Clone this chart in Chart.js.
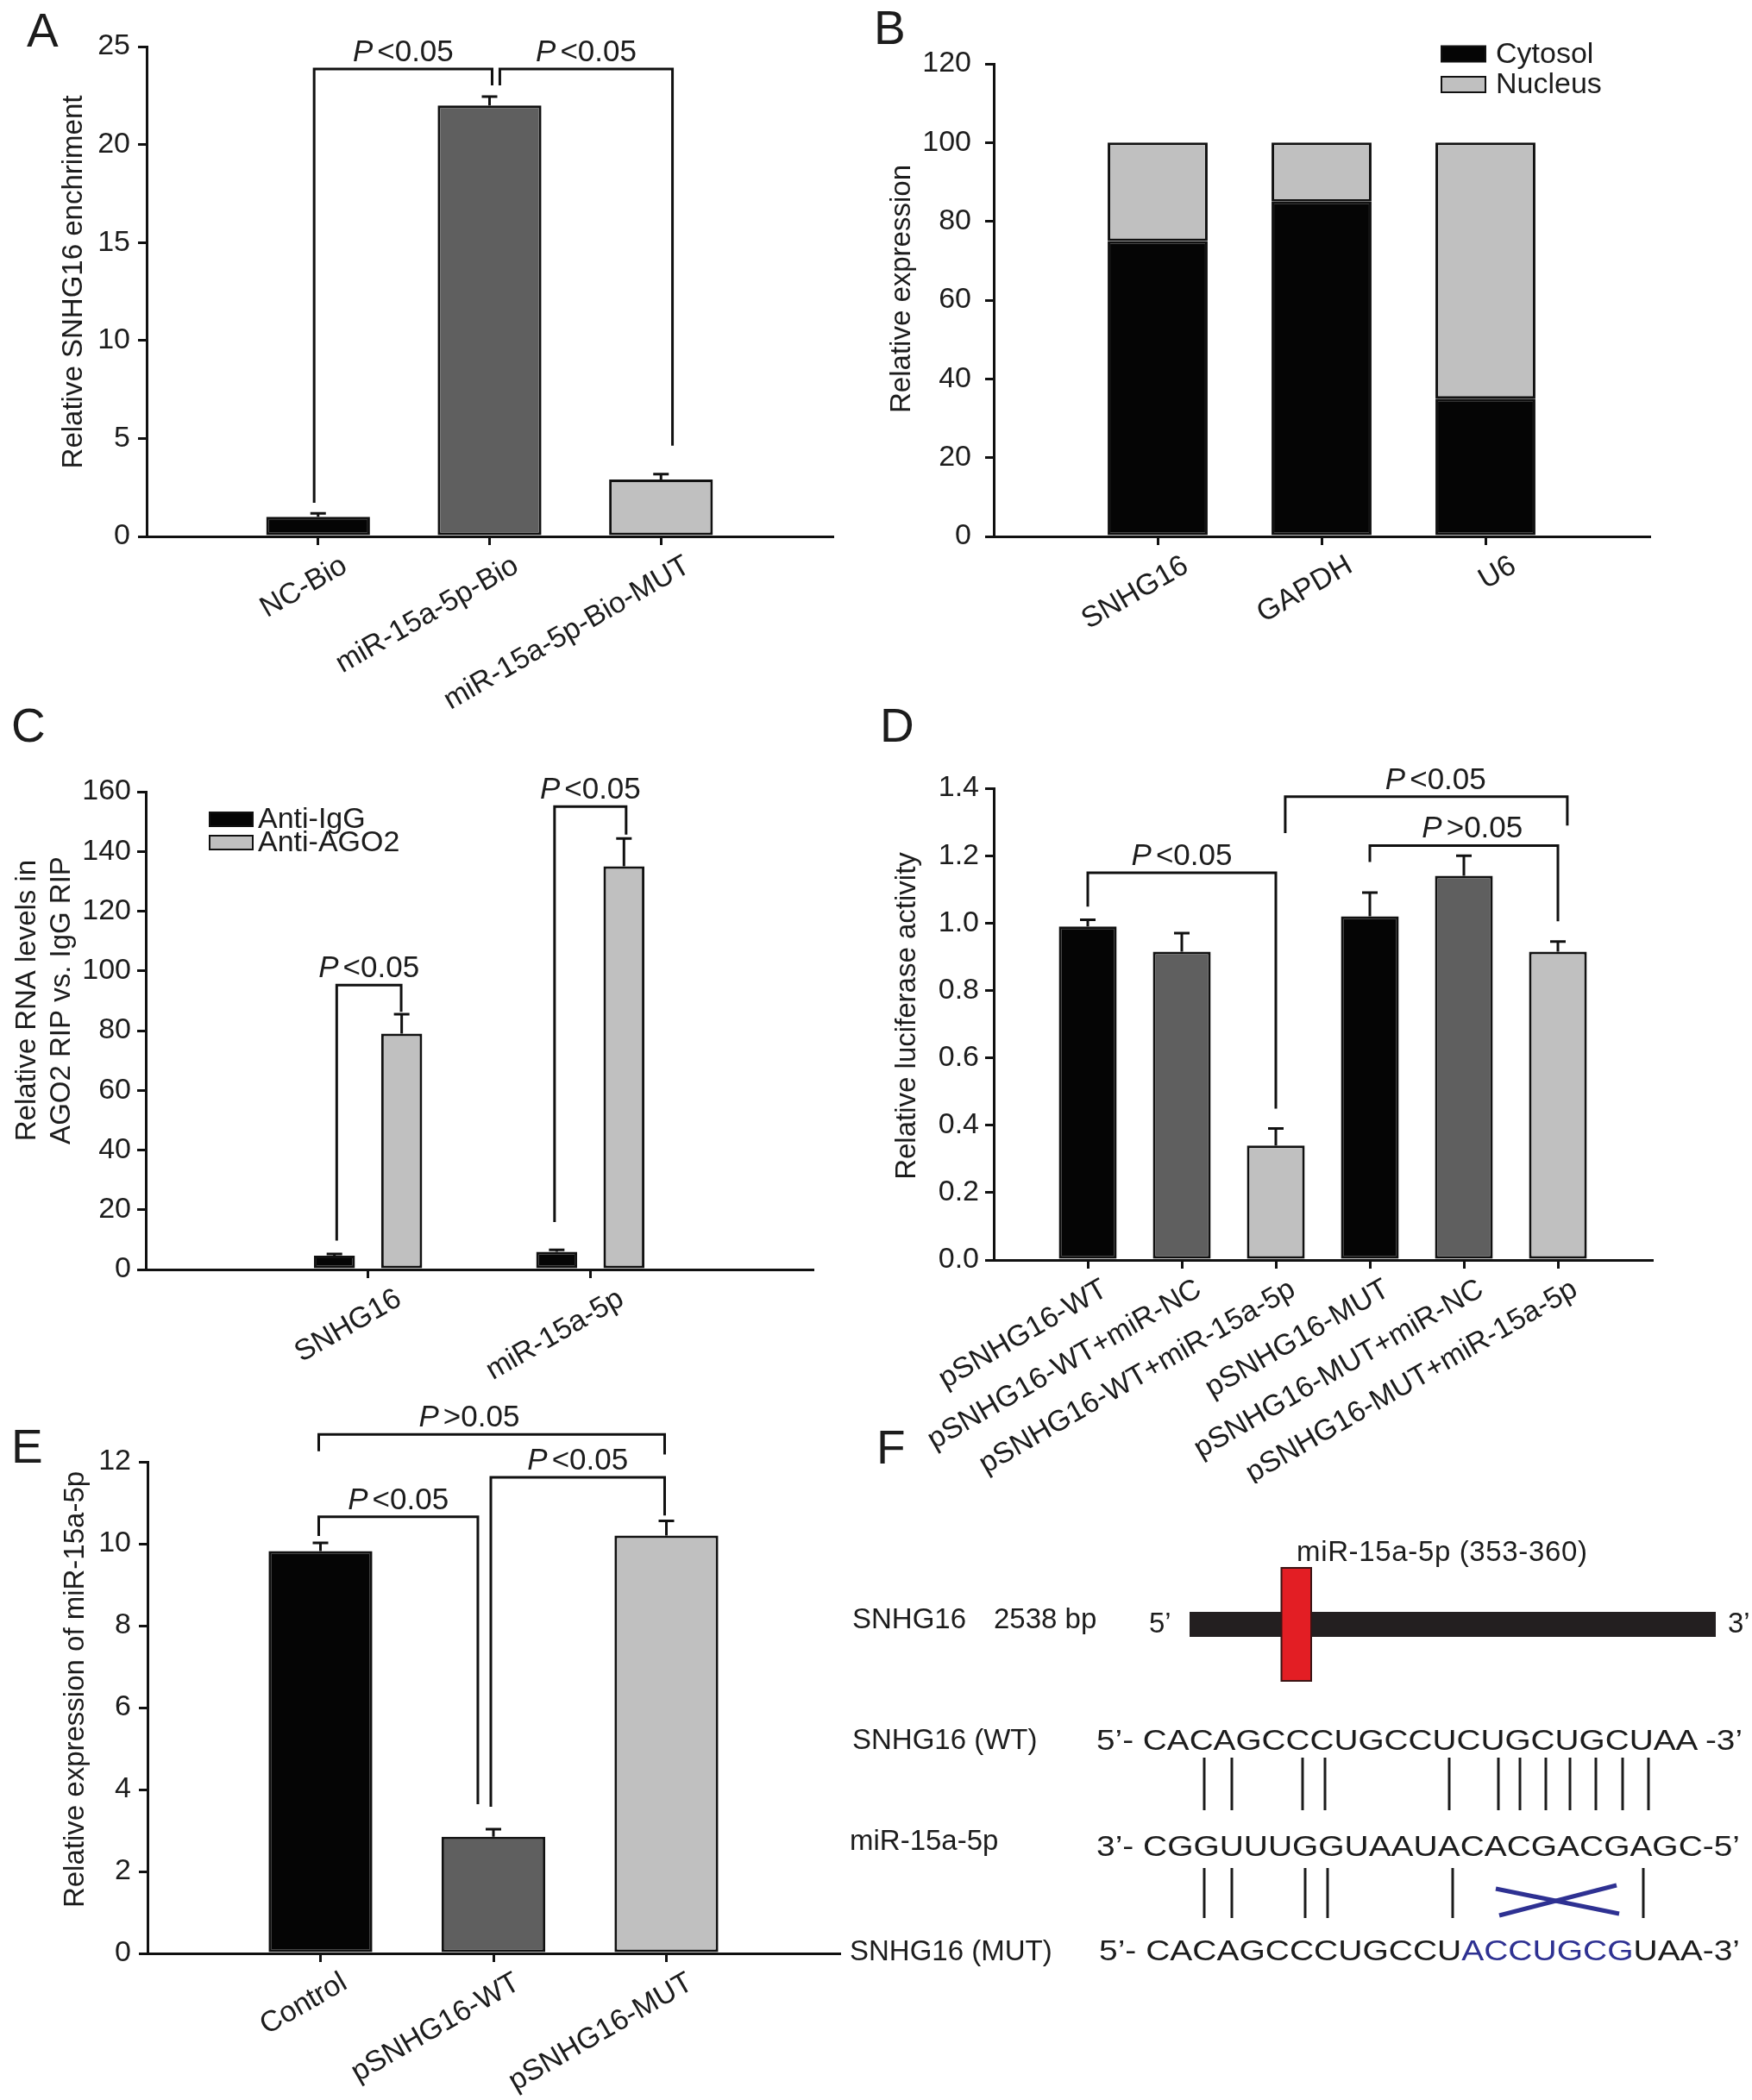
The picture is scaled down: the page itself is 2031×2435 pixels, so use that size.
<!DOCTYPE html>
<html>
<head>
<meta charset="utf-8">
<script src="https://cdn.jsdelivr.net/npm/chart.js"></script>
<style>
  html, body { margin: 0; padding: 0; background: #fff; }
  #page { position: relative; width: 2031px; height: 2435px; overflow: hidden; background: #fff; }
  canvas { position: absolute; }
  #overlay { position: absolute; left: 0; top: 0; pointer-events: none; }
</style>
</head>
<body>
<div id="page">
  <canvas id="chartA"></canvas>
  <canvas id="chartB"></canvas>
  <canvas id="chartC"></canvas>
  <canvas id="chartD"></canvas>
  <canvas id="chartE"></canvas>

  <!-- panel letters + panel F schematic -->
  <svg id="overlay" width="2031" height="2435" viewBox="0 0 2031 2435"
       font-family="'Liberation Sans', Arial, Helvetica, sans-serif" fill="#1c1c1c">
    <g font-size="55">
      <text x="31" y="54">A</text>
      <text x="1013" y="51">B</text>
      <text x="13" y="860">C</text>
      <text x="1020" y="860">D</text>
      <text x="13" y="1696">E</text>
      <text x="1016" y="1697">F</text>
    </g>
    <g font-size="33">
      <text x="1503" y="1810" textLength="337" lengthAdjust="spacing">miR-15a-5p (353-360)</text>
      <rect x="1379" y="1869" width="610" height="29" fill="#231f20"/>
      <rect x="1485.5" y="1818" width="34.5" height="131" fill="#e31e24" stroke="#3b1414" stroke-width="2"/>
      <text x="988" y="1888">SNHG16</text>
      <text x="1152" y="1888">2538 bp</text>
      <text x="1332" y="1893">5’</text>
      <text x="2003" y="1893">3’</text>

      <text x="988" y="2028">SNHG16 (WT)</text>
      <text x="985" y="2145">miR-15a-5p</text>
      <text x="985" y="2273">SNHG16 (MUT)</text>
    </g>
    <g font-size="34">
      <text x="1271" y="2029" textLength="749" lengthAdjust="spacingAndGlyphs">5’- CACAGCCCUGCCUCUGCUGCUAA -3’</text>
      <text x="1271" y="2152" textLength="746" lengthAdjust="spacingAndGlyphs">3’- CGGUUUGGUAAUACACGACGAGC-5’</text>
      <text x="1274" y="2273" textLength="743" lengthAdjust="spacingAndGlyphs">5’- CACAGCCCUGCCU<tspan fill="#2e3192">ACCUGCG</tspan>UAA-3’</text>
    </g>
    <g stroke="#1c1c1c" stroke-width="3">
      <line x1="1396" y1="2038" x2="1396" y2="2099"/>
      <line x1="1428" y1="2038" x2="1428" y2="2099"/>
      <line x1="1510" y1="2038" x2="1510" y2="2099"/>
      <line x1="1536" y1="2038" x2="1536" y2="2099"/>
      <line x1="1680" y1="2038" x2="1680" y2="2099"/>
      <line x1="1737" y1="2038" x2="1737" y2="2099"/>
      <line x1="1762" y1="2038" x2="1762" y2="2099"/>
      <line x1="1792" y1="2038" x2="1792" y2="2099"/>
      <line x1="1820" y1="2038" x2="1820" y2="2099"/>
      <line x1="1850" y1="2038" x2="1850" y2="2099"/>
      <line x1="1881" y1="2038" x2="1881" y2="2099"/>
      <line x1="1911" y1="2038" x2="1911" y2="2099"/>

      <line x1="1396" y1="2166" x2="1396" y2="2224"/>
      <line x1="1428" y1="2166" x2="1428" y2="2224"/>
      <line x1="1513" y1="2166" x2="1513" y2="2224"/>
      <line x1="1539" y1="2166" x2="1539" y2="2224"/>
      <line x1="1684" y1="2166" x2="1684" y2="2224"/>
      <line x1="1905" y1="2166" x2="1905" y2="2224"/>
    </g>
    <g stroke="#2e3192" stroke-width="5">
      <line x1="1734" y1="2190" x2="1877" y2="2219"/>
      <line x1="1738" y1="2221" x2="1874" y2="2186"/>
    </g>
  </svg>
</div>

<script>
// ---- data ----
const labelsA = ['NC-Bio', 'miR-15a-5p-Bio', 'miR-15a-5p-Bio-MUT'];
const valuesA = [1.0, 22.0, 2.9];
const errorsA = [0.18, 0.45, 0.28];
const ticksA = [0, 5, 10, 15, 20, 25];

const labelsB = ['SNHG16', 'GAPDH', 'U6'];
const cytosolB = [75, 85, 35];
const nucleusB = [25, 15, 65];
const ticksB = [0, 20, 40, 60, 80, 100, 120];

const labelsC = ['SNHG16', 'miR-15a-5p'];
const antiIgG = [4.6, 5.9];
const antiIgGErr = [0.6, 0.7];
const antiAGO2 = [79, 135];
const antiAGO2Err = [6.5, 9.3];
const ticksC = [0, 20, 40, 60, 80, 100, 120, 140, 160];

const labelsD = ['pSNHG16-WT', 'pSNHG16-WT+miR-NC', 'pSNHG16-WT+miR-15a-5p',
                 'pSNHG16-MUT', 'pSNHG16-MUT+miR-NC', 'pSNHG16-MUT+miR-15a-5p'];
const valuesD = [0.99, 0.915, 0.34, 1.02, 1.14, 0.915];
const errorsD = [0.02, 0.055, 0.05, 0.07, 0.06, 0.03];
const ticksD = [0, 0.2, 0.4, 0.6, 0.8, 1.0, 1.2, 1.4];

const labelsE = ['Control', 'pSNHG16-WT', 'pSNHG16-MUT'];
const valuesE = [9.82, 2.85, 10.2];
const errorsE = [0.2, 0.18, 0.36];
const ticksE = [0, 2, 4, 6, 8, 10, 12];

// significance brackets: x in category index (1 = first bar), y in data units
const bracketsA = [
  { x1: 0.977, x2: 2.015, top: 23.86, y1: 1.72, y2: 23.02, sign: '<' },
  { x1: 2.06, x2: 3.067, top: 23.86, y1: 23.02, y2: 4.63, sign: '<' }
];
const bracketsC = [
  { x1: 0.859, x2: 1.149, top: 95.2, y1: 9.7, y2: 86.3, sign: '<' },
  { x1: 1.839, x2: 2.161, top: 155, y1: 15.9, y2: 145.6, sign: '<' }
];
const bracketsD = [
  { x1: 1.0, x2: 3.0, top: 1.149, y1: 1.049, y2: 0.449, sign: '<' },
  { x1: 3.1, x2: 6.1, top: 1.375, y1: 1.267, y2: 1.289, sign: '<', tx: 4.7 },
  { x1: 4.0, x2: 6.0, top: 1.23, y1: 1.181, y2: 1.005, sign: '>', tx: 5.09 }
];
const bracketsE = [
  { x1: 0.99, x2: 2.99, top: 12.67, y1: 12.26, y2: 12.18, sign: '>', tx: 1.86 },
  { x1: 0.99, x2: 1.91, top: 10.66, y1: 10.19, y2: 3.64, sign: '<' },
  { x1: 1.985, x2: 2.99, top: 11.62, y1: 3.58, y2: 10.69, sign: '<' }
];

// ---- style ----
const FONT = "'Liberation Sans', Arial, Helvetica, sans-serif";
const INK = '#1c1c1c';
const BLACK = '#050505';
const DARK = '#5f5f5f';
const LIGHT = '#c0c0c0';

Chart.defaults.font.family = FONT;
Chart.defaults.font.size = 34;
Chart.defaults.color = INK;

// error bars drawn through the y scale
function errorBarsPlugin() {
  return {
    id: 'errorBars',
    afterDatasetsDraw(chart) {
      const ctx = chart.ctx, ys = chart.scales.y;
      chart.data.datasets.forEach((ds, i) => {
        if (!ds.errors) return;
        chart.getDatasetMeta(i).data.forEach((bar, j) => {
          const v = ds.data[j], e = ds.errors[j];
          if (v == null || e == null) return;
          const top = ys.getPixelForValue(v + e);
          ctx.save();
          ctx.strokeStyle = '#111';
          ctx.lineWidth = 3;
          ctx.beginPath();
          ctx.moveTo(bar.x, bar.y);
          ctx.lineTo(bar.x, top);
          ctx.moveTo(bar.x - 9, top);
          ctx.lineTo(bar.x + 9, top);
          ctx.stroke();
          ctx.restore();
        });
      });
    }
  };
}

function bracketsPlugin(list) {
  return {
    id: 'brackets',
    afterDraw(chart) {
      const ctx = chart.ctx, xs = chart.scales.x, ys = chart.scales.y;
      (list || []).forEach(b => {
        const x1 = xs.getPixelForValue(b.x1), x2 = xs.getPixelForValue(b.x2);
        const yt = ys.getPixelForValue(b.top);
        ctx.save();
        ctx.strokeStyle = '#111';
        ctx.lineWidth = 3;
        ctx.lineJoin = 'miter';
        ctx.beginPath();
        ctx.moveTo(x1, ys.getPixelForValue(b.y1));
        ctx.lineTo(x1, yt);
        ctx.lineTo(x2, yt);
        ctx.lineTo(x2, ys.getPixelForValue(b.y2));
        ctx.stroke();
        // P value text
        const cx = xs.getPixelForValue(b.tx != null ? b.tx : (b.x1 + b.x2) / 2);
        const rest = b.sign + '0.05';
        ctx.fillStyle = INK;
        ctx.textBaseline = 'alphabetic';
        ctx.textAlign = 'left';
        ctx.font = 'italic 35px ' + FONT;
        const wP = ctx.measureText('P').width;
        ctx.font = '35px ' + FONT;
        const wR = ctx.measureText(rest).width;
        const gap = 5;
        const x0 = cx - (wP + gap + wR) / 2;
        ctx.font = 'italic 35px ' + FONT;
        ctx.fillText('P', x0, yt - 9);
        ctx.font = '35px ' + FONT;
        ctx.fillText(rest, x0 + wP + gap, yt - 9);
        ctx.restore();
      });
    }
  };
}

function yTitlePlugin(p) {
  return {
    id: 'yTitle',
    afterDraw(chart) {
      const ctx = chart.ctx;
      const lh = 39.6;
      ctx.save();
      ctx.translate(p.titleAt[0] - p.box.x, p.titleAt[1] - p.box.y);
      ctx.rotate(-Math.PI / 2);
      ctx.font = '33px ' + FONT;
      ctx.fillStyle = INK;
      ctx.textAlign = 'center';
      ctx.textBaseline = 'middle';
      p.title.forEach((t, i) => ctx.fillText(t, 0, (i - (p.title.length - 1) / 2) * lh));
      ctx.restore();
    }
  };
}

function legendPlugin(p) {
  const L = p.legend;
  return {
    id: 'legendBoxes',
    afterDraw(chart) {
      const ctx = chart.ctx;
      ctx.save();
      chart.data.datasets.forEach((ds, i) => {
        const x = L.x - p.box.x;
        const y = L.y - p.box.y + i * L.gap;
        ctx.fillStyle = ds.swatch;
        ctx.fillRect(x, y - L.h / 2, L.w, L.h);
        ctx.lineWidth = 2;
        ctx.strokeStyle = '#111';
        ctx.strokeRect(x, y - L.h / 2, L.w, L.h);
        ctx.fillStyle = INK;
        ctx.font = '34px ' + FONT;
        ctx.textAlign = 'left';
        ctx.textBaseline = 'middle';
        ctx.fillText(ds.label, x + L.w + L.tx, y + 1);
      });
      ctx.restore();
    }
  };
}

function makeChart(p) {
  const cv = document.getElementById(p.id);
  cv.width = p.box.w;
  cv.height = p.box.h;
  Object.assign(cv.style, {
    left: p.box.x + 'px', top: p.box.y + 'px',
    width: p.box.w + 'px', height: p.box.h + 'px'
  });
  // one empty slot on each side, like the GraphPad layout
  const padded = ['', ...p.labels, ''];
  const datasets = p.series.map(s => ({
    label: s.label,
    data: [null, ...s.values, null],
    errors: s.errors ? [null, ...s.errors, null] : null,
    backgroundColor: Array.isArray(s.color) ? [null, ...s.color, null] : s.color,
    swatch: Array.isArray(s.color) ? s.color[0] : s.color,
    borderColor: '#111',
    borderWidth: 3,
    borderSkipped: false,
    barPercentage: p.barPct,
    categoryPercentage: p.catPct
  }));
  const plugins = [errorBarsPlugin(), bracketsPlugin(p.brackets), yTitlePlugin(p)];
  if (p.legend) plugins.push(legendPlugin(p));

  return new Chart(cv, {
    type: 'bar',
    data: { labels: padded, datasets },
    options: {
      responsive: false,
      animation: false,
      devicePixelRatio: 1,
      layout: {
        padding: { left: 0, top: p.area.t - p.box.y, right: p.box.x + p.box.w - p.area.r, bottom: 0 }
      },
      plugins: { legend: { display: false }, tooltip: { enabled: false } },
      scales: {
        x: {
          type: 'category',
          offset: false,
          stacked: !!p.stacked,
          grid: {
            offset: false, drawOnChartArea: false, drawTicks: true, tickLength: 10, lineWidth: 3,
            color: c => (padded[c.index] ? '#111' : 'rgba(0,0,0,0)')
          },
          border: { display: true, color: '#111', width: 3 },
          ticks: {
            autoSkip: false, minRotation: 30, maxRotation: 30,
            labelOffset: p.labelOffset, padding: 4, color: INK, font: { size: 34 }
          },
          afterFit: s => { s.height = p.box.y + p.box.h - p.area.b; }
        },
        y: {
          min: 0,
          max: p.ticks[p.ticks.length - 1],
          stacked: !!p.stacked,
          afterBuildTicks: s => { s.ticks = p.ticks.map(v => ({ value: v })); },
          grid: { drawOnChartArea: false, tickLength: 10, lineWidth: 3, color: '#111' },
          border: { display: true, color: '#111', width: 3 },
          ticks: {
            padding: p.tickPad, color: INK, font: { size: 34 },
            callback: v => (p.fmt ? p.fmt(v) : String(v))
          },
          afterFit: s => { s.width = p.area.l - p.box.x; }
        }
      }
    },
    plugins
  });
}

// A
makeChart({
  id: 'chartA',
  box: { x: 0, y: 0, w: 1000, h: 840 },
  area: { l: 170, t: 54, r: 965, b: 622 },
  labels: labelsA,
  series: [{ label: 'A', values: valuesA, errors: errorsA, color: [BLACK, DARK, LIGHT] }],
  ticks: ticksA, tickPad: 9, labelOffset: 31,
  barPct: 0.605, catPct: 1,
  title: ['Relative SNHG16 enchriment'], titleAt: [86, 327],
  brackets: bracketsA
});

// B
makeChart({
  id: 'chartB',
  box: { x: 1000, y: 0, w: 1031, h: 800 },
  area: { l: 1152, t: 74, r: 1912, b: 622 },
  labels: labelsB,
  series: [
    { label: 'Cytosol', values: cytosolB, color: BLACK },
    { label: 'Nucleus', values: nucleusB, color: LIGHT }
  ],
  stacked: true,
  ticks: ticksB, tickPad: 16, labelOffset: 33,
  barPct: 0.61, catPct: 1,
  title: ['Relative expression'], titleAt: [1046, 335],
  legend: { x: 1671, y: 62.5, gap: 35.5, w: 51, h: 18, tx: 12 },
  brackets: []
});

// C
makeChart({
  id: 'chartC',
  box: { x: 0, y: 800, w: 1000, h: 800 },
  area: { l: 169, t: 918, r: 942, b: 1472 },
  labels: labelsC,
  series: [
    { label: 'Anti-IgG', values: antiIgG, errors: antiIgGErr, color: BLACK },
    { label: 'Anti-AGO2', values: antiAGO2, errors: antiAGO2Err, color: LIGHT }
  ],
  ticks: ticksC, tickPad: 7, labelOffset: 36,
  barPct: 0.61, catPct: 0.605,
  title: ['Relative RNA levels in', 'AGO2 RIP vs. IgG RIP'], titleAt: [52, 1160],
  legend: { x: 243, y: 950, gap: 27, w: 50, h: 16, tx: 6 },
  brackets: bracketsC
});

// D
makeChart({
  id: 'chartD',
  box: { x: 1000, y: 800, w: 1031, h: 920 },
  area: { l: 1152, t: 914, r: 1915, b: 1461 },
  labels: labelsD,
  series: [{ label: 'D', values: valuesD, errors: errorsD, color: [BLACK, DARK, LIGHT, BLACK, DARK, LIGHT] }],
  ticks: ticksD, tickPad: 7, labelOffset: 20, fmt: v => v.toFixed(1),
  barPct: 0.615, catPct: 1,
  title: ['Relative luciferase activity'], titleAt: [1052, 1178],
  brackets: bracketsD
});

// E
makeChart({
  id: 'chartE',
  box: { x: 0, y: 1600, w: 1000, h: 835 },
  area: { l: 171, t: 1695, r: 973, b: 2265 },
  labels: labelsE,
  series: [{ label: 'E', values: valuesE, errors: errorsE, color: [BLACK, DARK, LIGHT] }],
  ticks: ticksE, tickPad: 9, labelOffset: 28,
  barPct: 0.6, catPct: 1,
  title: ['Relative expression of miR-15a-5p'], titleAt: [88, 1959],
  brackets: bracketsE
});
</script>
</body>
</html>
